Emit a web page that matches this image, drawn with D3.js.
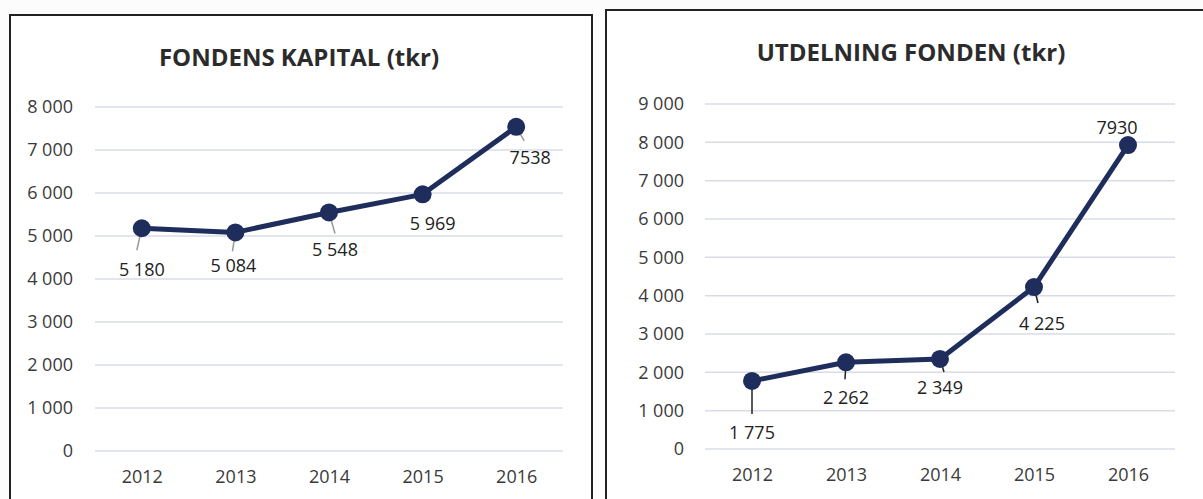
<!DOCTYPE html>
<html>
<head>
<meta charset="utf-8">
<script src="https://cdn.jsdelivr.net/npm/d3@7"></script>
<style>
  body { margin: 0; background: #fcfcfc; }
  text { font-family: "Open Sans", "Noto Sans", sans-serif; }
</style>
</head>
<body>
<div id="chart"></div>
<script>
// data
const years = ["2012", "2013", "2014", "2015", "2016"];
const kapital = [5180, 5084, 5548, 5969, 7538];
const kapitalLabels = ["5 180", "5 084", "5 548", "5 969", "7538"];
const kapitalTicks = [0, 1000, 2000, 3000, 4000, 5000, 6000, 7000, 8000];
const utdelning = [1775, 2262, 2349, 4225, 7930];
const utdelningLabels = ["1 775", "2 262", "2 349", "4 225", "7930"];
const utdelningTicks = [0, 1000, 2000, 3000, 4000, 5000, 6000, 7000, 8000, 9000];

const fmt = d3.formatLocale({decimal: ",", thousands: "\u00a0", grouping: [3], currency: ["", ""]}).format(",d");

const svg = d3.select("#chart")
    .append("svg")
        .attr("width", 1203)
        .attr("height", 499);

// panel layout: box, plot area, label offsets (dx, dy from point) and leader ends
const panels = [
    {
        title: "FONDENS KAPITAL (tkr)", values: kapital, labels: kapitalLabels, ticks: kapitalTicks,
        box: [10, 15, 582, 520], titleX: 299, titleY: 66,
        x0: 95, x1: 563, yTop: 107, yBottom: 451, tickX: 73, leaderColor: "#9a9a9a",
        labelOff: [[0, 42], [-2, 34], [6, 38], [10, 30], [14, 31]],
        leaderEnd: [[-5, 22], [-3, 19], [6, 21], null, [8, 14]]
    },
    {
        title: "UTDELNING FONDEN (tkr)", values: utdelning, labels: utdelningLabels, ticks: utdelningTicks,
        box: [606, 10, 610, 520], titleX: 911, titleY: 61,
        x0: 705, x1: 1175, yTop: 104, yBottom: 449, tickX: 684, leaderColor: "#222",
        labelOff: [[0, 52], [0, 36], [0, 29], [8, 37], [-11, -17]],
        leaderEnd: [[0, 33], [-1, 17], [4, 13], [4, 16], null]
    }
];

panels.forEach(function(p) {
    const g = svg.append("g");

    g.append("rect")
        .attr("x", p.box[0])
        .attr("y", p.box[1])
        .attr("width", p.box[2])
        .attr("height", p.box[3])
        .style("fill", "#fff")
        .style("stroke", "#222")
        .style("stroke-width", 2);

    g.append("text")
        .attr("x", p.titleX)
        .attr("y", p.titleY)
        .attr("text-anchor", "middle")
        .style("font-size", "24px")
        .style("font-weight", "bold")
        .style("fill", "#2b2b2b")
        .text(p.title);

    var x = d3.scalePoint()
        .domain(years)
        .range([p.x0, p.x1])
        .padding(0.5);

    var y = d3.scaleLinear()
        .domain([0, d3.max(p.ticks)])
        .range([p.yBottom, p.yTop]);

    // gridlines
    g.selectAll("grid")
        .data(p.ticks)
        .enter()
        .append("line")
            .attr("x1", p.x0)
            .attr("x2", p.x1)
            .attr("y1", function(d) { return y(d); })
            .attr("y2", function(d) { return y(d); })
            .style("stroke", "#d9dce8")
            .style("stroke-width", 1.5);

    // Y axis
    var yAxis = g.append("g")
        .attr("transform", "translate(" + p.tickX + ",0)")
        .call(d3.axisLeft(y).tickValues(p.ticks).tickFormat(fmt).tickSize(0).tickPadding(0));
    yAxis.select(".domain").remove();
    yAxis.selectAll("text")
        .style("font-size", "18px")
        .style("fill", "#3a3a3a")
        .attr("font-family", null);

    // X axis
    var xAxis = g.append("g")
        .attr("transform", "translate(0," + (p.yBottom + 19) + ")")
        .call(d3.axisBottom(x).tickSize(0).tickPadding(0));
    xAxis.select(".domain").remove();
    xAxis.selectAll("text")
        .style("font-size", "18px")
        .style("fill", "#3a3a3a")
        .attr("font-family", null);

    var pts = p.values.map(function(v, i) { return [x(years[i]), y(v)]; });

    // leader lines
    pts.forEach(function(pt, i) {
        var e = p.leaderEnd[i];
        if (!e) return;
        g.append("line")
            .attr("x1", pt[0])
            .attr("y1", pt[1])
            .attr("x2", pt[0] + e[0])
            .attr("y2", pt[1] + e[1])
            .style("stroke", p.leaderColor)
            .style("stroke-width", 1.5);
    });

    // line
    g.append("path")
        .datum(p.values)
        .attr("d", d3.line()
            .x(function(d, i) { return x(years[i]); })
            .y(function(d) { return y(d); }))
        .style("fill", "none")
        .style("stroke", "#1f2d5c")
        .style("stroke-width", 5)
        .style("stroke-linejoin", "round");

    g.selectAll("dots")
        .data(p.values)
        .enter()
        .append("circle")
            .attr("cx", function(d, i) { return x(years[i]); })
            .attr("cy", function(d) { return y(d); })
            .attr("r", 9)
            .style("fill", "#1f2d5c");

    // data labels
    g.selectAll("labels")
        .data(p.labels)
        .enter()
        .append("text")
            .attr("x", function(d, i) { return pts[i][0] + p.labelOff[i][0]; })
            .attr("y", function(d, i) { return pts[i][1] + p.labelOff[i][1] + 6; })
            .attr("text-anchor", "middle")
            .style("font-size", "18px")
            .style("fill", "#222")
            .text(function(d) { return d; });
});
</script>
</body>
</html>
